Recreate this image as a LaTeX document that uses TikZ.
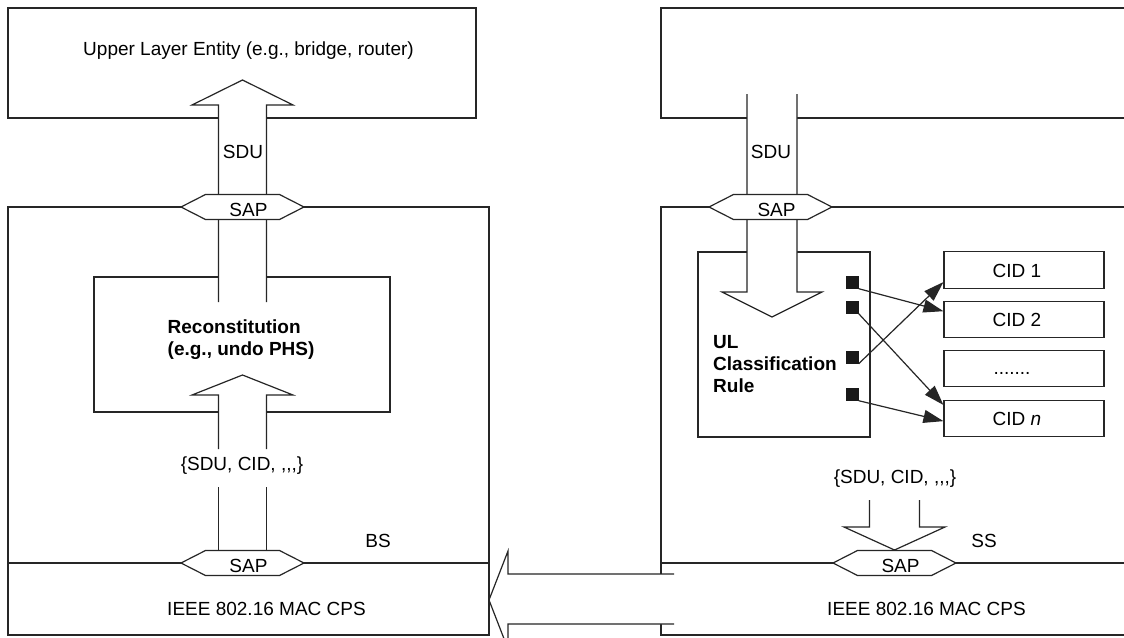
\documentclass[tikz,border=0pt]{standalone}
\usepackage{fontspec}
\setmainfont{Liberation Sans}
\usetikzlibrary{arrows.meta,calc}
\tikzset{
  ln/.style={draw=black!85,line width=1.2pt},
  box/.style={ln,rectangle,inner sep=0pt},
  txt/.style={inner sep=0pt,font=\fontsize{19}{22}\selectfont,anchor=base},
  btxt/.style={inner sep=0pt,font=\fontsize{19}{22}\selectfont\bfseries,anchor=base west},
  openarrow/.style={ln,fill=white,line join=miter},
  sq/.style={fill=black!90,minimum size=13pt,inner sep=0pt},
  cidbox/.style={box,minimum width=160pt,minimum height=36.5pt},
  conn/.style={ln,-{Triangle[length=20pt,width=13pt]}},
  sap/.pic={
    \path[ln,fill=white] (-61.5,0) -- (-37,-12.5) -- (37,-12.5) -- (61.5,0) -- (37,12.5) -- (-37,12.5) -- cycle;
    \node[txt] (-t) at (6,9) {SAP};
  }
}
\begin{document}
\begin{tikzpicture}[x=1pt,y=-1pt]
\fill[white] (0,0) rectangle (1124,637);
\useasboundingbox (0,0) rectangle (1124,637);
\clip (0,0) rectangle (1124,637);

% ---------- right side (SS) frames ----------
\coordinate (ssTopR) at (1130,8);
\coordinate (ssTopL) at (661,8);
\coordinate (ssTopBL) at (661,118);
\coordinate (ssTopBR) at (1130,118);
\draw[ln] (ssTopR) -- (ssTopL) -- (ssTopBL) -- (ssTopBR);
\coordinate (ssR) at (1130,207);
\coordinate (ssL) at (661,207);
\coordinate (ssBL) at (661,635);
\coordinate (ssBR) at (1130,635);
\draw[ln] (ssR) -- (ssL) -- (ssBL) -- (ssBR);
\coordinate (ssMidL) at (661,563);
\coordinate (ssMidR) at (1130,563);
\draw[ln] (ssMidL) -- (ssMidR);

% big arrow from SS to BS
\path[openarrow] (674,574) -- (508,574) -- (508,551) -- (489,600) -- (508,649) -- (508,624) -- (674,624);

% ---------- left side (BS) frames ----------
\node[box,minimum width=468pt,minimum height=110pt] (ule) at (242,63) {};
\node[box,minimum width=481pt,minimum height=428pt] (bs) at (248.5,421) {};
\draw[ln] (bs.west |- 0,563) -- (bs.east |- 0,563);
\node[box,minimum width=296pt,minimum height=135pt] (recon) at (242,344.5) {};

% UL classification box
\node[box,minimum width=172pt,minimum height=185pt] (ulc) at (784,344.5) {};

% ---------- open block arrows ----------
% top-left, upwards
\path[openarrow] (218.5,302) -- (218.5,105) -- (192,105) -- (242.5,80) -- (293,105) -- (266.5,105) -- (266.5,302);
% lower-left, upwards (with gap for label)
\path[fill=white] (218.5,551) -- (218.5,395) -- (192,395) -- (242.5,375) -- (293,395) -- (266.5,395) -- (266.5,551) -- cycle;
\draw[ln,line join=miter] (218.5,449) -- (218.5,395) -- (192,395) -- (242.5,375) -- (293,395) -- (266.5,395) -- (266.5,449);
\draw[ln] (218.5,487) -- (218.5,552);
\draw[ln] (266.5,487) -- (266.5,552);
% top-right, downwards
\path[openarrow] (747,94) -- (747,292) -- (722,292) -- (772,317) -- (822,292) -- (797,292) -- (797,94);
% bottom-right, downwards
\path[openarrow] (869.5,500) -- (869.5,527) -- (844,527) -- (894.5,550) -- (945,527) -- (919.5,527) -- (919.5,500);

% ---------- SAPs ----------
\pic (sapA) at (242.5,207) {sap};
\pic (sapB) at (770.5,207) {sap};
\pic (sapC) at (242.5,563) {sap};
\pic (sapD) at (894.5,563) {sap};

% ---------- CID boxes ----------
\node[cidbox] (cid1) at (1024,270) {};
\node[cidbox] (cid2) at (1024,319.5) {};
\node[cidbox] (cid3) at (1024,368.5) {};
\node[cidbox] (cidn) at (1024,418.5) {};
\node[txt] (cid1t) at ($(cid1.center)+(-7,7)$) {CID 1};
\node[txt] (cid2t) at ($(cid2.center)+(-7,7)$) {CID 2};
\node[txt] (cid3t) at ($(cid3.center)+(-12,6)$) {.{}.{}.{}.{}.{}.{}.};
\node[txt] (cidnt) at ($(cidn.center)+(-7,7)$) {CID \textit{n}};

% ---------- classifier ports ----------
\node[sq] (sq1) at (852,282) {};
\node[sq] (sq2) at (852,307) {};
\node[sq] (sq3) at (852,357) {};
\node[sq] (sq4) at (852,394) {};
\draw[conn] (sq1.south east) -- ($(cid2.north west)!0.28!(cid2.south west)$);
\draw[conn] (sq2.south east) -- ($(cidn.north west)!0.14!(cidn.south west)$);
\draw[conn] (sq3.south east) -- ($(cid1.north west)!0.82!(cid1.south west)$);
\draw[conn] (sq4.south east) -- ($(cidn.north west)!0.57!(cidn.south west)$);

% ---------- texts ----------
\node[txt] (uletext) at (248.5,55) {Upper Layer Entity (e.g., bridge, router)};
\node[txt] (sdu1) at (243,158) {SDU};
\node[txt] (sdu2) at (771,158) {SDU};
\node[btxt] (recon1) at (167.5,333) {Reconstitution};
\node[btxt] (recon2) at (167.5,355.5) {(e.g., undo PHS)};
\node[btxt] (ul1) at (713,348) {UL};
\node[btxt] (ul2) at (713,370) {Classification};
\node[btxt] (ul3) at (713,392) {Rule};
\node[txt] (pdu1) at (242,470) {\{SDU, CID, ,{},{},\}};
\node[txt] (pdu2) at (895,483) {\{SDU, CID, ,{},{},\}};
\node[txt] (bslabel) at (378,547) {BS};
\node[txt] (sslabel) at (984,547) {SS};
\node[txt] (mac1) at (266.5,615) {IEEE 802.16 MAC CPS};
\node[txt] (mac2) at (926.5,615) {IEEE 802.16 MAC CPS};
\end{tikzpicture}
\end{document}
